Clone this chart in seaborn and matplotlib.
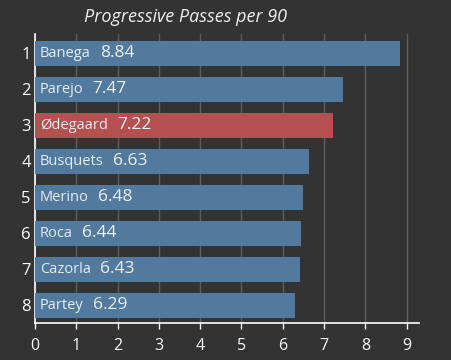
import matplotlib
matplotlib.use("Agg")
import matplotlib.pyplot as plt
import seaborn as sns
import pandas as pd

players = ["Banega", "Parejo", "Ødegaard", "Busquets", "Merino", "Roca", "Cazorla", "Partey"]
values = [8.84, 7.47, 7.22, 6.63, 6.48, 6.44, 6.43, 6.29]
ranks = ["1", "2", "3", "4", "5", "6", "7", "8"]
highlight = "Ødegaard"
title = "Progressive Passes per 90"
xticks = [0, 1, 2, 3, 4, 5, 6, 7, 8, 9]

BG = "#333333"
BLUE = "#527a9f"
RED = "#b55050"

sns.set_theme(style="dark")
plt.rcParams["font.family"] = ["Open Sans", "DejaVu Sans"]

df = pd.DataFrame({"rank": ranks, "player": players, "value": values})
df["grp"] = ["hl" if p == highlight else "norm" for p in players]

fig = plt.figure(figsize=(4.52, 3.6), dpi=100, facecolor=BG)
ax = fig.add_axes([35 / 452, 37 / 360, (419 - 35) / 452, (323 - 34) / 360])
ax.set_facecolor(BG)

sns.barplot(data=df, x="value", y="rank", hue="grp", palette={"hl": RED, "norm": BLUE},
            orient="h", width=0.7, dodge=False, legend=False, ax=ax, zorder=3,
            saturation=1, linewidth=0, edgecolor="none")

ax.set_xlim(0, 9.3)
ax.set_ylim(7.49, -0.54)
ax.set_xticks(xticks)
ax.set_xticklabels([str(t) for t in xticks], color="white", fontsize=11.5)
ax.set_yticks(range(len(ranks)))
ax.set_yticklabels(ranks, color="white", fontsize=12)
ax.set_xlabel("")
ax.set_ylabel("")
ax.tick_params(axis="x", colors="white", length=4, width=1, pad=7, direction="out", bottom=True)
ax.tick_params(axis="y", length=0, pad=3)
ax.xaxis.grid(True, color="#5e5e5e", linewidth=1, zorder=0)
ax.yaxis.grid(False)
ax.set_axisbelow(True)
for s in ["top", "right"]:
    ax.spines[s].set_visible(False)
for s in ["left", "bottom"]:
    ax.spines[s].set_visible(True)
    ax.spines[s].set_color("white")
    ax.spines[s].set_linewidth(1.2)

fig.canvas.draw()
renderer = fig.canvas.get_renderer()
inv = ax.transData.inverted()
for i, (p, v) in enumerate(zip(players, values)):
    t = ax.text(0.12, i, p, color="#e6edf5", fontsize=10.5, va="center", ha="left", zorder=5)
    bb = t.get_window_extent(renderer)
    xend = inv.transform((bb.x1, 0))[0]
    ax.text(xend + 0.22, i, f"{v:.2f}", color="#eef2f7", fontsize=12.5, va="center", ha="left", zorder=5)

fig.text(186 / 452, 1 - 17 / 360, title, color="#eeeeee", fontsize=13, style="italic",
         ha="center", va="center")

fig.savefig("out.png", dpi=100, facecolor=BG)
